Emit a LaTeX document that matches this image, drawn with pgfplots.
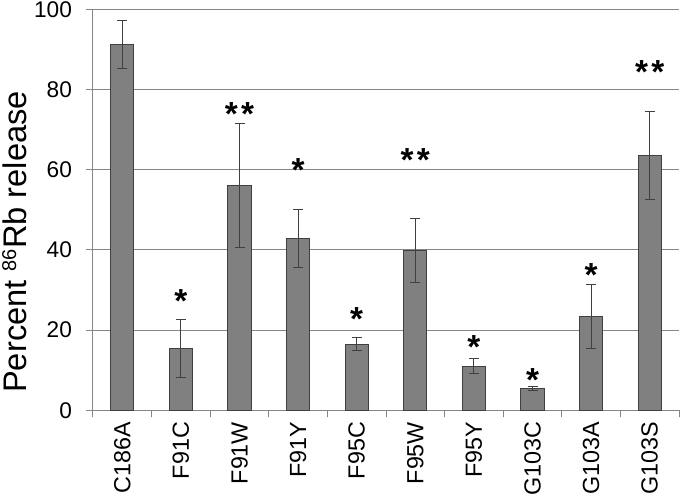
\documentclass[border=0pt]{standalone}
\usepackage{fontspec}
\setmainfont{Liberation Sans}
\usepackage{pgfplots}
\usepackage{pgfplotstable}
\pgfplotsset{compat=1.18}
\usetikzlibrary{calc}
\definecolor{barfill}{RGB}{128,128,128}
\definecolor{baredge}{RGB}{64,64,64}
\definecolor{gridc}{RGB}{134,134,134}
\newcommand\dstar{*\kern2.5pt*}

\pgfplotstableread{
x val err
1 91.2 6.0
2 15.4 7.3
3 56.0 15.5
4 42.9 7.2
5 16.5 1.6
6 39.9 8.0
7 11.0 1.85
8 5.4 0.45
9 23.4 7.95
10 63.5 11.0
}\bars

\begin{document}
\begin{tikzpicture}
\begin{axis}[
  scale only axis,
  width=439.5pt, height=300.75pt,
  xmin=0.5, xmax=10.5, ymin=0, ymax=100,
  axis lines*=left,
  axis line style={gridc, line width=0.75pt},
  ymajorgrids,
  grid style={gridc, line width=0.75pt},
  ytick={0,20,...,100},
  xtick={1,...,10},
  xticklabels={C186A,F91C,F91W,F91Y,F95C,F95W,F95Y,G103C,G103A,G103S},
  minor xtick={0.5,1.5,...,10.5},
  major x tick style={draw=none},
  tick align=outside,
  major tick length=5.25pt,
  minor tick length=5.25pt,
  tick style={gridc, line width=0.75pt},
  /pgf/number format/assume math mode=true,
  x tick label style={rotate=90, anchor=east, font=\fontsize{17.5}{19}\selectfont},
  y tick label style={font=\fontsize{17}{19}\selectfont, xshift=-7pt},
  ylabel={Percent \raisebox{7.5pt}{\fontsize{15}{15}\selectfont 86}Rb release},
  ylabel style={at={(axis description cs:-0.1143,0.42)}, anchor=base, font=\fontsize{24.5}{26}\selectfont},
]
\addplot[ybar, bar width=17.5pt, fill=barfill, draw=baredge, line width=0.75pt,
  error bars/.cd, y dir=both, y explicit,
  error bar style={baredge, line width=0.75pt},
  error mark options={baredge, line width=0.75pt, mark size=3.75pt, rotate=90}]
  table[x=x, y=val, y error=err] {\bars};
\addplot[draw=none, mark=none, nodes near coords, point meta=explicit symbolic,
  nodes near coords style={anchor=base, inner sep=0pt, font=\fontsize{25}{25}\selectfont\bfseries}]
  coordinates {(2,24.45) [*] (3,71.05) [\dstar] (4,57.05) [*] (5,19.95) [*] (6,59.55) [\dstar] (7,12.95) [*] (8,4.75) [*] (9,30.95) [*] (10,81.55) [\dstar]};
\coordinate (pl) at (rel axis cs:0,0);
\coordinate (pr) at (rel axis cs:1,1);
\end{axis}
\pgfresetboundingbox
\path ($(pl)+(-69.75pt,-65.25pt)$) rectangle ($(pr)+(0.75pt,6.975pt)$);
\end{tikzpicture}
\end{document}
